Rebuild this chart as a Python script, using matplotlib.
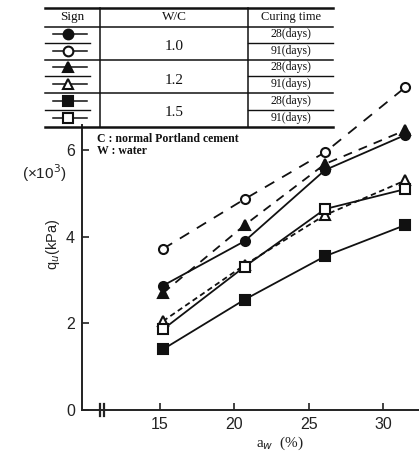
import numpy as np
import matplotlib.pyplot as plt

# water content a_w (%) and unconfined strength q_u (x10^3 kPa)
aw = [15.2, 20.7, 26.1, 31.5]
c10_28 = [2.87, 3.9, 5.54, 6.35]
c10_91 = [3.72, 4.87, 5.95, 7.45]
c12_28 = [2.7, 4.27, 5.68, 6.46]
c12_91 = [2.05, 3.35, 4.5, 5.3]
c15_28 = [1.4, 2.55, 3.55, 4.27]
c15_91 = [1.86, 3.31, 4.64, 5.1]

wc_labels = ['1.0', '1.2', '1.5']
curing = ['28(days)', '91(days)']
yticks = [0, 2, 4, 6]
xticks = [15, 20, 25, 30]

W, H = 419, 457
fig = plt.figure(figsize=(W / 100, H / 100), dpi=100)

# main axes, placed by pixel positions of the reference
x0, y0, x1, y1 = 82, 410, 419, 125
ax = fig.add_axes([x0 / W, (H - y0) / H, (x1 - x0) / W, (y0 - y1) / H])
ax.set_xlim(9.76, 32.42)
ax.set_ylim(0, 6.58)
for s in ['top', 'right']:
    ax.spines[s].set_visible(False)
for s in ['left', 'bottom']:
    ax.spines[s].set_linewidth(1.4)
    ax.spines[s].set_color('#222')
ax.set_xticks(xticks)
ax.set_yticks(yticks)
ax.tick_params(direction='in', length=5, width=1.2, labelsize=11.5, colors='#222', pad=5)
for lab in ax.get_xticklabels() + ax.get_yticklabels():
    lab.set_family('Liberation Sans')

k = '#111'
series = [
    (c10_28, 'o', k, '-'),
    (c10_91, 'o', 'white', (0, (6, 5))),
    (c12_28, '^', k, (0, (5, 4))),
    (c12_91, '^', 'white', (0, (3, 2))),
    (c15_28, 's', k, '-'),
    (c15_91, 's', 'white', '-'),
]
for vals, m, fc, ls in series:
    ax.plot(aw, vals, color=k, lw=1.3, ls=ls, marker=m, ms=6.5,
            mfc=fc, mec=k, mew=1.5, clip_on=False)

# overlay in pixel coordinates for labels and the table
ov = fig.add_axes([0, 0, 1, 1])
ov.set_xlim(0, W)
ov.set_ylim(H, 0)
ov.axis('off')
ov.patch.set_alpha(0)

ov.text(53, 244, 'q$_u$(kPa)', rotation=90, ha='center', va='center',
        fontsize=10.5, family='Liberation Sans', color='#222')
ov.text(44, 173, '(×10$^3$)', ha='center', va='center',
        fontsize=11, family='Liberation Sans', color='#222')
ov.text(280, 443, 'a$_w$  (%)', ha='center', va='center',
        fontsize=11, family='Liberation Serif', color='#222')

# axis break mark
for bx in (100, 104):
    ov.plot([bx, bx], [404, 416], color='#222', lw=1.6)

# table
tl, tr = 45, 333
vx1, vx2 = 100, 248
ov.plot([tl, tr], [8, 8], color=k, lw=1.8)
ov.plot([tl, tr], [127, 127], color=k, lw=1.8)
for yy in (27, 60, 93):
    ov.plot([tl, tr], [yy, yy], color=k, lw=1.1)
for yy in (43, 76, 110):
    ov.plot([tl, 90], [yy, yy], color=k, lw=1.0)
    ov.plot([vx2, tr], [yy, yy], color=k, lw=1.0)
for xx in (vx1, vx2):
    ov.plot([xx, xx], [8, 127], color=k, lw=1.1)

tf = dict(family='Liberation Serif', color=k, va='center')
ov.text(72, 17, 'Sign', ha='center', fontsize=9.5, **tf)
ov.text(174, 17, 'W/C', ha='center', fontsize=9.5, **tf)
ov.text(291, 17, 'Curing time', ha='center', fontsize=9, **tf)

row_y = [34, 51, 67, 84, 101, 118]
for i, (vals, m, fc, ls) in enumerate(series):
    ry = row_y[i]
    ov.plot([53, 87], [ry, ry], color=k, lw=1.1)
    ov.plot([68], [ry], marker=m, ms=7, mfc=fc, mec=k, mew=1.5, color=k)
    ov.text(291, ry, curing[i % 2], ha='center', fontsize=8.5, **tf)
for j, lab in enumerate(wc_labels):
    ov.text(174, 47 + 33 * j, lab, ha='center', fontsize=11, **tf)

ov.text(97, 139, 'C : normal Portland cement', ha='left', fontsize=8.5,
        fontweight='bold', **tf)
ov.text(97, 151, 'W : water', ha='left', fontsize=8.5, fontweight='bold', **tf)

fig.savefig('out.png', dpi=100)
